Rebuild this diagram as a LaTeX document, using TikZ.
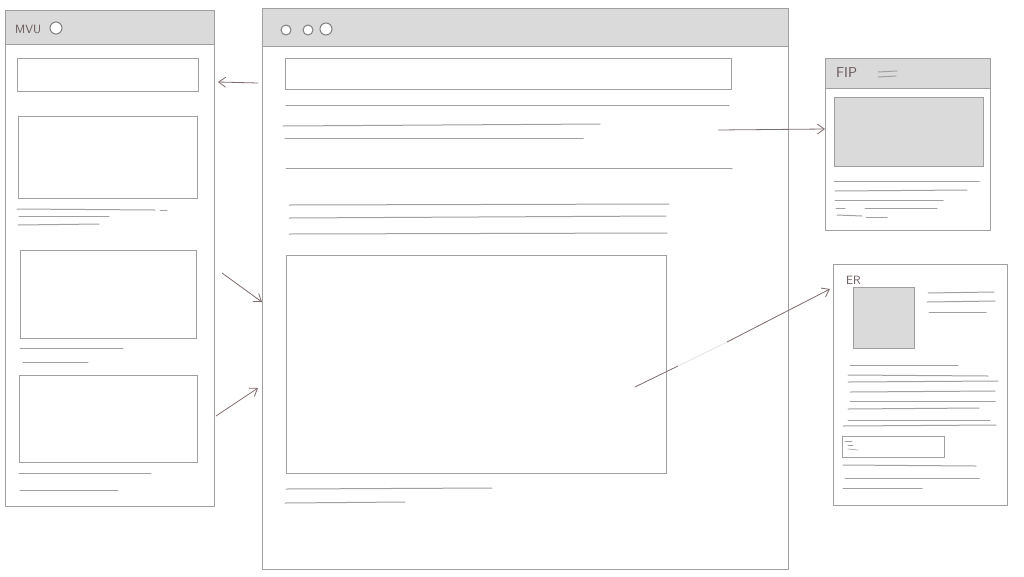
\documentclass[tikz,border=0pt]{standalone}
\usetikzlibrary{arrows.meta}
\definecolor{sketchgray}{HTML}{A0A0A0}
\definecolor{headgray}{HTML}{DADADA}
\definecolor{arrowbrown}{HTML}{7E6C6C}
\begin{document}
\begin{tikzpicture}[x=1pt, y=-1pt,
  panel/.style={draw=sketchgray, line width=1pt, fill=white, anchor=north west, inner sep=0pt, outer sep=0pt},
  header/.style={draw=sketchgray, line width=1pt, fill=headgray, anchor=north west, inner sep=0pt, outer sep=0pt},
  block/.style={draw=sketchgray, line width=1pt, anchor=north west, inner sep=0pt, outer sep=0pt},
  greyblock/.style={block, fill=headgray},
  textline/.style={draw=sketchgray, line width=1pt, line cap=round},
  dot/.style={circle, draw=sketchgray!80!black, line width=1pt, fill=white, inner sep=0pt, minimum size=10pt},
  link/.style={draw=arrowbrown, line width=0.8pt, -{Straight Barb[length=7pt, width=10pt]}},
  label/.style={text=arrowbrown!80!black, font=\sffamily\large, anchor=west, inner sep=0pt}]
\useasboundingbox[fill=white] (0,0) rectangle (1024,576);
% left panel
\node[panel, minimum width=209pt, minimum height=496pt] (lpanel) at (5,10) {};
\node[header, minimum width=209pt, minimum height=34pt] (lhead) at (5,10) {};
\node[label] (lname) at (15,29) {MVU};
\node[dot, minimum size=12pt] (ldot) at (56,28) {};
\node[block, minimum width=181pt, minimum height=33pt] (lbox1) at (17,58) {};
\node[block, minimum width=179pt, minimum height=82pt] (lbox2) at (18,116) {};
\draw[textline] (17,209) -- (155,210);
\draw[textline] (160,210) -- (167,210);
\draw[textline] (19,216) -- (109,216);
\draw[textline] (18,225) -- (99,224);
\node[block, minimum width=176pt, minimum height=88pt] (lbox3) at (20,250) {};
\draw[textline] (20,348) -- (123,348);
\draw[textline] (23,362) -- (88,362);
\node[block, minimum width=178pt, minimum height=87pt] (lbox4) at (19,375) {};
\draw[textline] (19,473) -- (151,473);
\draw[textline] (20,490) -- (118,490);
% centre panel
\node[panel, minimum width=526pt, minimum height=561pt] (cpanel) at (262,8) {};
\node[header, minimum width=526pt, minimum height=38pt] (chead) at (262,8) {};
\node[dot] (cdot1) at (286,30) {};
\node[dot] (cdot2) at (308,30) {};
\node[dot, minimum width=10pt, minimum height=12pt] (cdot3) at (326,29) {};
\node[block, minimum width=446pt, minimum height=31pt] (cbox1) at (285,58) {};
\draw[textline] (286,105) -- (729,105);
\draw[textline] (283,126) -- (600,124);
\draw[textline] (285,138) -- (583,138);
\draw[textline] (286,168) -- (732,168);
\draw[textline] (289,205) -- (669,204);
\draw[textline] (289,218) -- (666,216);
\draw[textline] (289,234) -- (667,233);
\node[block, minimum width=380pt, minimum height=218pt] (cbox2) at (286,255) {};
\draw[textline] (286,489) -- (492,488);
\draw[textline] (285,503) -- (405,502);
% top right panel
\node[panel, minimum width=165pt, minimum height=172pt] (tpanel) at (825,58) {};
\node[header, minimum width=165pt, minimum height=30pt] (thead) at (825,58) {};
\node[label, font=\sffamily\Large] (tname) at (836,73) {FIP};
\draw[textline] (878,72) -- (897,71);
\draw[textline] (878,77) -- (896,76);
\node[greyblock, minimum width=149pt, minimum height=69pt] (tbox) at (834,97) {};
\draw[textline] (834,181) -- (979,181);
\draw[textline] (835,191) -- (967,190);
\draw[textline] (835,200) -- (943,200);
\draw[textline] (836,208) -- (845,208);
\draw[textline] (865,208) -- (937,208);
\draw[textline] (837,215) -- (862,216);
\draw[textline] (866,217) -- (887,217);
% bottom right panel
\node[panel, minimum width=174pt, minimum height=241pt] (bpanel) at (833,264) {};
\node[label] (bname) at (846,280) {ER};
\node[greyblock, minimum width=61pt, minimum height=61pt] (bbox) at (853,287) {};
\draw[textline] (928,293) -- (994,292);
\draw[textline] (927,302) -- (995,301);
\draw[textline] (929,312) -- (986,312);
\draw[textline] (850,365) -- (958,365);
\draw[textline] (848,375) -- (988,376);
\draw[textline] (848,382) -- (998,381);
\draw[textline] (850,392) -- (995,391);
\draw[textline] (850,401) -- (995,401);
\draw[textline] (848,409) -- (979,408);
\draw[textline] (848,420) -- (990,420);
\draw[textline] (843,426) -- (996,425);
\node[block, minimum width=102pt, minimum height=21pt] (bform) at (842,436) {};
\draw[textline, line width=0.6pt] (845,441) -- (852,441);
\draw[textline, line width=0.6pt] (848,445) -- (853,445);
\draw[textline, line width=0.6pt] (848,449) -- (858,450);
\draw[textline] (843,465) -- (976,466);
\draw[textline] (845,478) -- (979,478);
\draw[textline] (843,488) -- (922,488);
% connectors
\coordinate (a1s) at (258,83);
\coordinate (a1e) at (lpanel.east |- 0,82);
\coordinate (a2s) at (222,273);
\coordinate (a2e) at (262,302);
\coordinate (a3s) at (216,416);
\coordinate (a3e) at (258,388);
\coordinate (a4s) at (718,130);
\coordinate (a4e) at (tpanel.west |- 0,129);
\coordinate (a5s) at (635,387);
\coordinate (a5m) at (678,366);
\coordinate (a5n) at (727,342);
\coordinate (a5e) at (830,289);
\draw[link] (a1s) -- ([xshift=4pt]a1e);
\draw[link] (a2s) -- (a2e);
\draw[link] (a3s) -- (a3e);
\draw[link] (a4s) -- (a4e);
\draw[arrowbrown, line width=0.8pt] (a5s) -- (a5m);
\draw[arrowbrown!20, line width=0.8pt] (a5m) -- (a5n);
\draw[link] (a5n) -- (a5e);
\end{tikzpicture}
\end{document}
